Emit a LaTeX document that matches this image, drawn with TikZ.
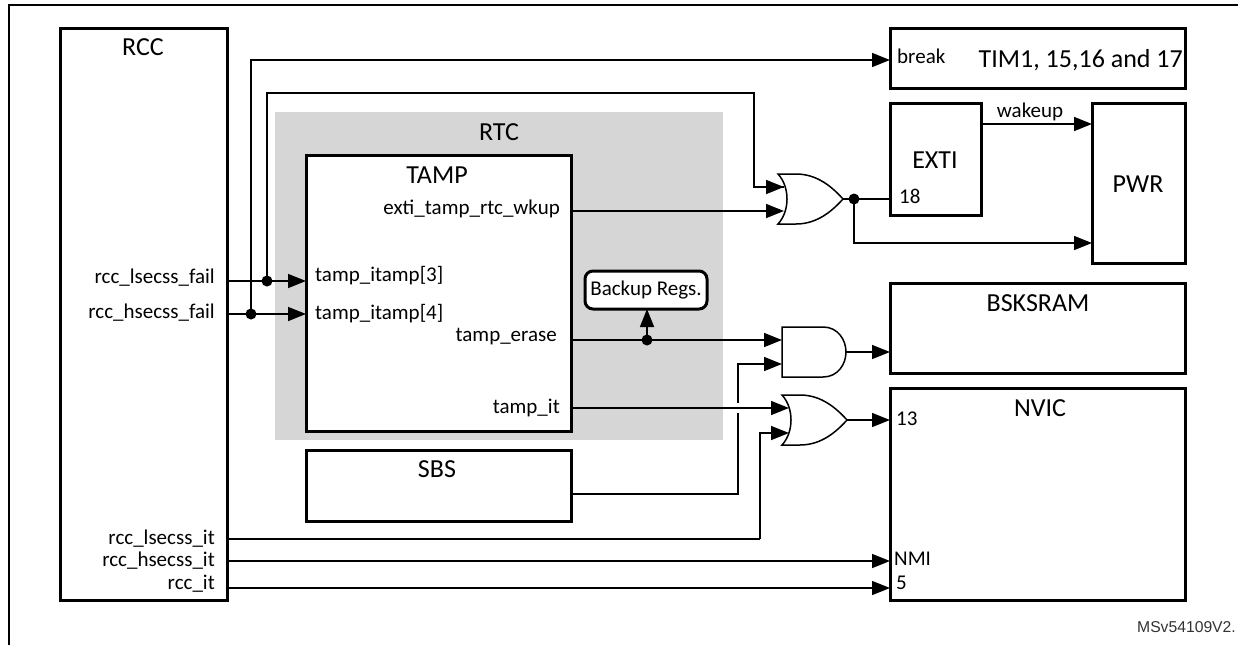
\documentclass[tikz,border=0pt]{standalone}
\usepackage{fontspec}
\setmainfont{Carlito}
\newfontfamily\arialfont{Liberation Sans}
\usetikzlibrary{arrows.meta}
\tikzset{
  x=1pt,y=-1pt,
  box/.style={draw=black,line width=3pt,fill=white,inner sep=0pt,outer sep=0pt,anchor=north west},
  wire/.style={draw=black,line width=1.5pt},
  arr/.style={wire,-{Triangle[length=18pt,width=14pt]}},
  dotnode/.style={circle,fill=black,inner sep=0pt,minimum size=11pt},
  gatebody/.style={draw=black,line width=1.5pt,fill=white},
  gatenode/.style={inner sep=0pt,outer sep=0pt,anchor=west},
  big/.style={font=\fontsize{26}{28}\selectfont,inner sep=0pt,text height=19pt,text depth=0pt},
  lab/.style={font=\fontsize{21}{24}\selectfont,inner sep=0pt,text height=16pt,text depth=5pt},
}
\newcommand{\orshape}[1]{\draw[gatebody,shift={(#1.west)}] (0,-25) -- (18,-25) .. controls (40,-25) and (55,-11) .. (65,0) .. controls (55,11) and (40,25) .. (18,25) -- (0,25) .. controls (12,12) and (12,-12) .. (0,-25) -- cycle;}
\newcommand{\andshape}[1]{\draw[gatebody,shift={(#1.west)}] (0,-25) -- (41,-25) .. controls (56,-25) and (64,-12) .. (64,0) .. controls (64,12) and (56,25) .. (41,25) -- (0,25) -- cycle;}
\begin{document}
\begin{tikzpicture}
\useasboundingbox (0,0) rectangle (1238,645);
% outer frame
\coordinate (fa) at (9,645);
\coordinate (fb) at (9,5);
\coordinate (fc) at (1238,5);
\draw[line width=1.8pt] (fa) -- (fb) -- (fc);
% RTC background
\node[anchor=north west,fill=black!16,minimum width=448pt,minimum height=328pt,inner sep=0pt,outer sep=0pt] (rtc) at (275,112) {};
% boxes
\node[box,minimum width=167pt,minimum height=572pt] (rcc) at (60,28) {};
\node[box,minimum width=265pt,minimum height=276pt] (tamp) at (306,155) {};
\node[box,minimum width=265pt,minimum height=71pt] (sbs) at (306,450) {};
\node[box,minimum width=295pt,minimum height=60pt] (tim) at (890,28) {};
\node[box,minimum width=91pt,minimum height=112pt] (exti) at (890,103) {};
\node[box,minimum width=93pt,minimum height=160pt] (pwr) at (1092,103) {};
\node[box,minimum width=295pt,minimum height=90pt] (bsk) at (890,283) {};
\node[box,minimum width=295pt,minimum height=212pt] (nvic) at (890,388) {};
\node[box,rounded corners=8pt,minimum width=122pt,minimum height=38pt] (bak) at (585,271) {};
% gates
\node[gatenode,minimum width=65pt,minimum height=50pt] (ora) at (778,199) {};
\node[gatenode,minimum width=64pt,minimum height=50pt] (anda) at (782,352) {};
\node[gatenode,minimum width=65pt,minimum height=50pt] (orb) at (782,420) {};
% junction and route points
\node[dotnode] (d1) at (267,281) {};
\node[dotnode] (d2) at (251,314) {};
\node[dotnode] (d3) at (647,340) {};
\node[dotnode] (d4) at (854,199) {};
\coordinate (oraA) at (784,187);
\coordinate (oraB) at (784,211);
\coordinate (andA) at (782,340);
\coordinate (andB) at (782,364);
\coordinate (orbA) at (789,408);
\coordinate (orbB) at (789,433);
\coordinate (r1) at (754,93);
\coordinate (r2) at (251,60);
\coordinate (g1) at (738,413);
\coordinate (g2) at (738,403);
\coordinate (r3) at (760,539);
% wires
\draw[arr] (rcc.east |- d1) -- (tamp.west |- d1);
\draw[arr] (rcc.east |- d2) -- (tamp.west |- d2);
\draw[wire] (d1.center) -- (d1.center |- r1) -- (r1) -- (r1 |- oraA) -- (oraA);
\draw[arr] (r1 |- oraA) -- (oraA);
\draw[arr] (d2.center) -- (r2) -- (tim.west |- r2);
\draw[arr] (tamp.east |- oraB) -- (oraB);
\draw[arr] (tamp.east |- d3) -- (andA);
\draw[arr] (d3.center) -- (bak.south -| d3);
\draw[arr] (exti.east |- 0,124) -- (pwr.west |- 0,124);
\draw[wire] (d4.center) -- (exti.west |- d4);
\draw[arr] (d4.center) |- (pwr.west |- 0,243);
\draw[wire] (sbs.east |- 0,494) -| (g1);
\draw[arr] (g2) |- (andB);
\draw[arr] (tamp.east |- orbA) -- (orbA);
\draw[wire] (rcc.east |- r3) -- (r3);
\draw[arr] (r3) |- (orbB);
\draw[arr] (rcc.east |- 0,561) -- (nvic.west |- 0,561);
\draw[arr] (rcc.east |- 0,588) -- (nvic.west |- 0,588);
% gate bodies
\orshape{ora}
\andshape{anda}
\orshape{orb}
\draw[wire] (ora.east) -- (d4.center);
\draw[arr] (anda.east) -- (bsk.west |- anda.east);
\draw[arr] (orb.east) -- (nvic.west |- orb.east);
% titles
\node[big] (trcc) at (143,46) {RCC};
\node[big] (trtc) at (499,131) {RTC};
\node[big] (ttamp) at (437,174) {TAMP};
\node[big] (tsbs) at (437,468) {SBS};
\node[big,anchor=east] (ttim) at (1183,58) {TIM1, 15,16 and 17};
\node[big] (texti) at (935,159) {EXTI};
\node[big] (tpwr) at (1138,183) {PWR};
\node[big] (tbsk) at (1038,302) {BSKSRAM};
\node[big] (tnvic) at (1040,407) {NVIC};
% labels
\node[lab,anchor=east] (l1) at (215,278) {rcc\_lsecss\_fail};
\node[lab,anchor=east] (l2) at (215,313) {rcc\_hsecss\_fail};
\node[lab,anchor=east] (l3) at (215,539) {rcc\_lsecss\_it};
\node[lab,anchor=east] (l4) at (215,561) {rcc\_hsecss\_it};
\node[lab,anchor=east] (l5) at (215,584) {rcc\_it};
\node[lab,anchor=east] (l6) at (560,209) {exti\_tamp\_rtc\_wkup};
\node[lab,anchor=west] (l7) at (315,276) {tamp\_itamp[3]};
\node[lab,anchor=west] (l8) at (315,314) {tamp\_itamp[4]};
\node[lab,anchor=east] (l9) at (557,336) {tamp\_erase};
\node[lab,anchor=east] (l10) at (560,408) {tamp\_it};
\node[lab] (l11) at (646,290) {Backup Regs.};
\node[lab,anchor=west] (l12) at (897,58) {break};
\node[lab] (l13) at (1030,112) {wakeup};
\node[lab,anchor=west] (l14) at (899,198) {18};
\node[lab,anchor=west] (l15) at (896,420) {13};
\node[lab,anchor=west] (l16) at (894,560) {NMI};
\node[lab,anchor=west] (l17) at (896,584) {5};
\node[anchor=east,inner sep=0pt,font=\arialfont\fontsize{15.7}{17}\selectfont,text=black!80] (l18) at (1236,627) {MSv54109V2.};
\end{tikzpicture}
\end{document}
